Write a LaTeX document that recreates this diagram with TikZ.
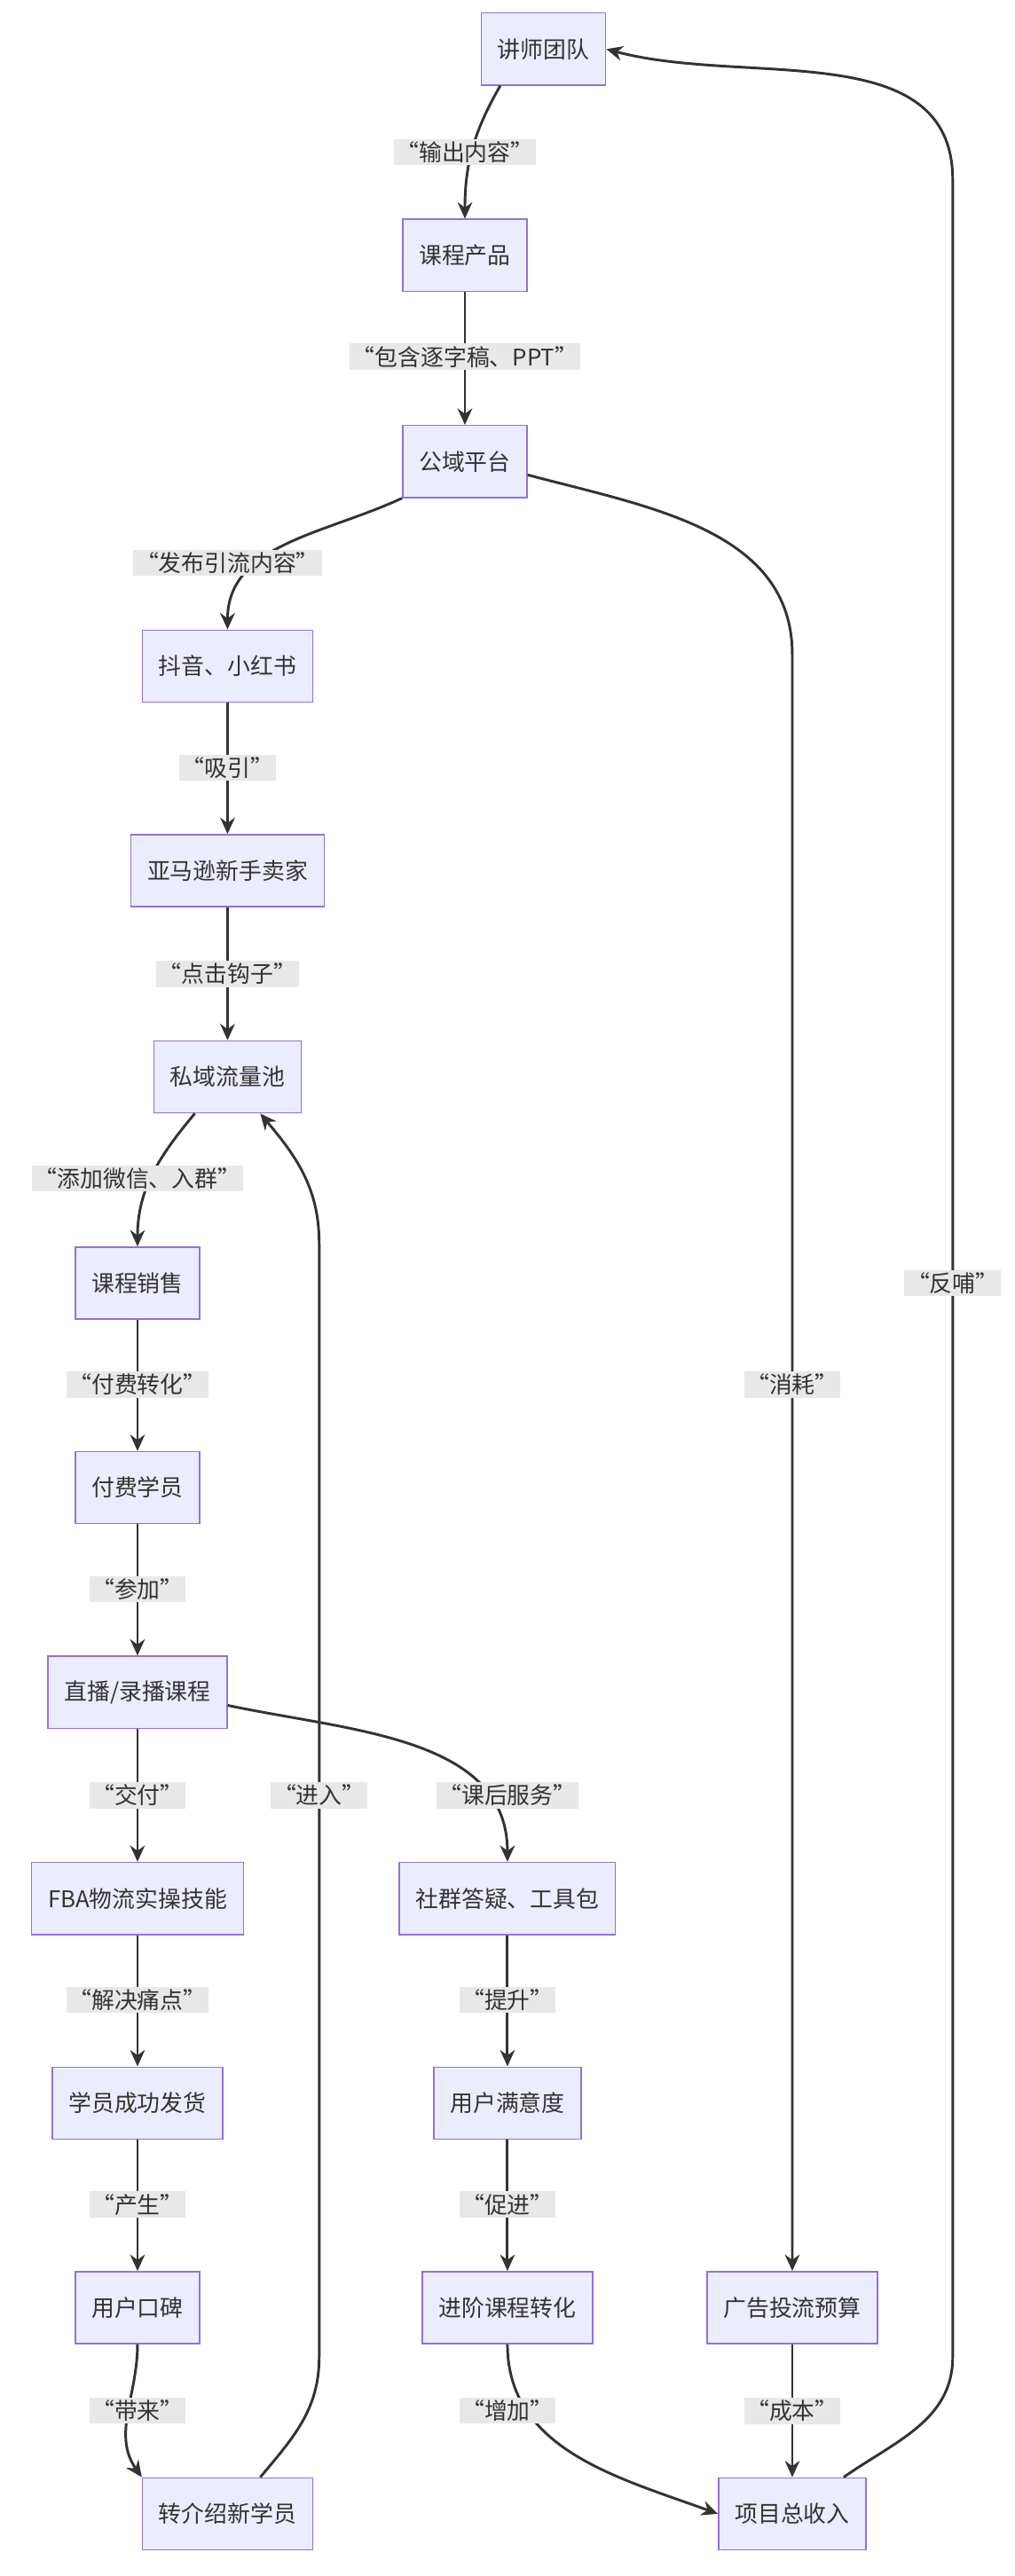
\documentclass[tikz,border=0pt]{standalone}
\usepackage{fontspec}
\setmainfont{Noto Sans CJK SC}
\usetikzlibrary{arrows.meta}
\definecolor{nf}{HTML}{ECECFF}
\definecolor{nb}{HTML}{9370DB}
\definecolor{ln}{HTML}{333333}
\definecolor{lb}{HTML}{E8E8E8}
\begin{document}
\begin{tikzpicture}[x=1pt,y=-1pt,
  box/.style={draw=nb,fill=nf,line width=0.8pt,minimum height=44pt,inner xsep=10pt,font=\fontsize{14}{16}\selectfont,text=ln},
  lab/.style={fill=lb,inner sep=1.5pt,font=\fontsize{14}{16}\selectfont,text=ln},
  e/.style={draw=ln,line width=1.6pt,-{Stealth[length=10pt,width=9pt]}}]
\useasboundingbox (0,0) rectangle (620,1574);
\node[box] (js) at (332,30) {讲师团队};
\node[box] (kc) at (284,156) {课程产品};
\node[box] (gy) at (284,282) {公域平台};
\node[box] (dy) at (139,407) {抖音、小红书};
\node[box] (ym) at (139,532) {亚马逊新手卖家};
\node[box] (sy) at (139,658) {私域流量池};
\node[box] (xs) at (84,784) {课程销售};
\node[box] (ff) at (84,909) {付费学员};
\node[box] (zb) at (84,1034) {直播/录播课程};
\node[box] (fba) at (84,1160) {FBA物流实操技能};
\node[box] (cg) at (84,1285) {学员成功发货};
\node[box] (kb) at (84,1410) {用户口碑};
\node[box] (zj) at (139,1536) {转介绍新学员};
\node[box] (sq) at (310,1160) {社群答疑、工具包};
\node[box] (my) at (310,1285) {用户满意度};
\node[box] (jj) at (310,1410) {进阶课程转化};
\node[box] (gg) at (484,1410) {广告投流预算};
\node[box] (sr) at (484,1536) {项目总收入};

\draw[e] (js.south west)++(12,0) to[out=-120,in=90] (kc.north);
\draw[e] (kc) -- (gy);
\draw[e] (gy.south west) to[out=-155,in=90] (dy.north);
\draw[e] (gy.-12) to[out=-15,in=90] (484,400) -- (gg.north);
\draw[e] (dy) -- (ym);
\draw[e] (ym) -- (sy);
\draw[e] (sy.south)++(-20,0) to[out=-130,in=90] (xs.north);
\draw[e] (xs) -- (ff);
\draw[e] (ff) -- (zb);
\draw[e] (zb) -- (fba);
\draw[e] (zb.east)++(0,8) to[out=-12,in=90] (sq.north);
\draw[e] (fba) -- (cg);
\draw[e] (cg) -- (kb);
\draw[e] (kb.south) to[out=-90,in=125] (zj.north west);
\draw[e] (zj.north)++(20,0) to[out=50,in=-90] (195,1440) -- (195,760) to[out=90,in=-50] ([xshift=20pt]sy.south);
\draw[e] (sq) -- (my);
\draw[e] (my) -- (jj);
\draw[e] (jj.south) to[out=-90,in=160] (sr.west);
\draw[e] (gg) -- (sr);
\draw[e] (sr.north east)++(-14,0) to[out=35,in=-90] (582,1440) -- (582,110) to[out=90,in=-15] (js.east);

\node[lab] (l1) at (284,93) {“输出内容”};
\node[lab] (l2) at (284,218) {“包含逐字稿、PPT”};
\node[lab] (l3) at (139,344) {“发布引流内容”};
\node[lab] (l4) at (484,846) {“消耗”};
\node[lab] (l5) at (139,469) {“吸引”};
\node[lab] (l6) at (139,595) {“点击钩子”};
\node[lab] (l7) at (84,720) {“添加微信、入群”};
\node[lab] (l8) at (84,846) {“付费转化”};
\node[lab] (l9) at (84,971) {“参加”};
\node[lab] (l10) at (84,1097) {“交付”};
\node[lab] (l11) at (310,1097) {“课后服务”};
\node[lab] (l12) at (195,1097) {“进入”};
\node[lab] (l13) at (84,1222) {“解决痛点”};
\node[lab] (l14) at (84,1347) {“产生”};
\node[lab] (l15) at (84,1473) {“带来”};
\node[lab] (l16) at (310,1222) {“提升”};
\node[lab] (l17) at (310,1347) {“促进”};
\node[lab] (l18) at (310,1473) {“增加”};
\node[lab] (l19) at (484,1473) {“成本”};
\node[lab] (l20) at (582,784) {“反哺”};
\end{tikzpicture}
\end{document}
